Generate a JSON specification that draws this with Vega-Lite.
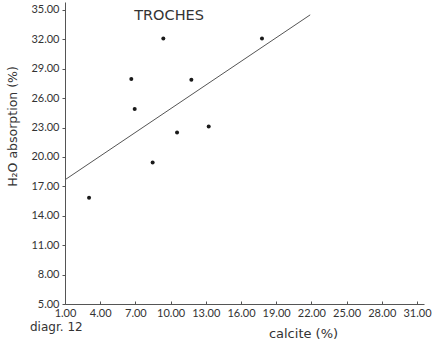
{
  "$schema": "https://vega.github.io/schema/vega-lite/v6.json",
  "width": 359,
  "height": 302,
  "autosize": {"type": "none"},
  "padding": {"left": 65, "top": 2, "right": 12, "bottom": 44},
  "background": "white",
  "title": {
    "text": "diagr. 12",
    "orient": "bottom",
    "anchor": "start",
    "frame": "group",
    "offset": -18,
    "dx": -35,
    "font": "DejaVu Sans",
    "fontSize": 12,
    "fontWeight": "normal",
    "color": "#333"
  },
  "config": {
    "view": {"stroke": null},
    "font": "DejaVu Sans"
  },
  "datasets": {
    "pts": [
      {"calcite": 3.05, "h2o": 15.84},
      {"calcite": 6.65, "h2o": 27.94},
      {"calcite": 6.94, "h2o": 24.9},
      {"calcite": 8.47, "h2o": 19.43},
      {"calcite": 9.38, "h2o": 32.07},
      {"calcite": 10.55, "h2o": 22.5},
      {"calcite": 11.77, "h2o": 27.86},
      {"calcite": 13.25, "h2o": 23.1},
      {"calcite": 17.79, "h2o": 32.07}
    ],
    "fit": [
      {"calcite": 1.0, "h2o": 17.67},
      {"calcite": 21.9, "h2o": 34.49}
    ],
    "label": [
      {"calcite": 9.87, "h2o": 34.4, "text": "TROCHES"}
    ]
  },
  "encoding": {
    "x": {
      "field": "calcite",
      "type": "quantitative",
      "scale": {"domain": [1, 31.6], "nice": false, "zero": false},
      "axis": {
        "values": [1, 4, 7, 10, 13, 16, 19, 22, 25, 28, 31],
        "format": ".2f",
        "grid": false,
        "labelOverlap": false,
        "labelBound": false,
        "labelFlush": false,
        "tickSize": -3,
        "tickColor": "#555",
        "domainColor": "#555",
        "labelColor": "#333",
        "labelFont": "Lato",
        "labelFontSize": 11,
        "labelPadding": 6,
        "title": "calcite (%)",
        "titleFontSize": 13,
        "titleFontWeight": "normal",
        "titleColor": "#333",
        "titleX": 238,
        "titleY": 29,
        "titleBaseline": "middle",
        "titleAlign": "center"
      }
    },
    "y": {
      "field": "h2o",
      "type": "quantitative",
      "scale": {"domain": [5, 35.8], "nice": false, "zero": false},
      "axis": {
        "values": [5, 8, 11, 14, 17, 20, 23, 26, 29, 32, 35],
        "format": ".2f",
        "grid": false,
        "labelOverlap": false,
        "labelBound": false,
        "labelFlush": false,
        "tickSize": 3,
        "tickColor": "#555",
        "domainColor": "#555",
        "labelColor": "#333",
        "labelFont": "Lato",
        "labelFontSize": 11,
        "labelPadding": 3,
        "title": "H₂O absorption (%)",
        "titleFontSize": 12.5,
        "titleFontWeight": "normal",
        "titleColor": "#333",
        "titleX": -53,
        "titleY": 124,
        "titleBaseline": "middle",
        "titleAlign": "center",
        "titleAngle": -90
      }
    }
  },
  "layer": [
    {
      "data": {"name": "fit"},
      "mark": {"type": "line", "color": "#555", "strokeWidth": 1, "clip": true}
    },
    {
      "data": {"name": "pts"},
      "mark": {"type": "circle", "color": "#1a1a1a", "opacity": 1, "size": 16}
    },
    {
      "data": {"name": "label"},
      "mark": {"type": "text", "fontSize": 14.5, "color": "#333", "align": "center", "baseline": "middle"},
      "encoding": {
        "text": {"field": "text"}
      }
    }
  ]
}
